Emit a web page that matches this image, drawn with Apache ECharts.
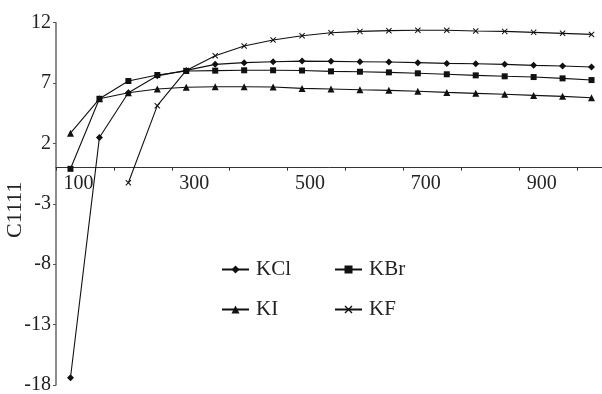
<!DOCTYPE html>
<html>
<head>
<meta charset="utf-8">
<script src="https://cdn.jsdelivr.net/npm/echarts@6/dist/echarts.min.js"></script>
<style>
html,body{margin:0;padding:0;background:#fff;}
#chart{width:602px;height:394px;}
</style>
</head>
<body>
<div id="chart"></div>
<script>
var categories = ['100','150','200','250','300','350','400','450','500','550','600','650','700','750','800','850','900','950','1000'];
var kcl = [-17.4, 2.5, 6.2, 7.6, 8.05, 8.55, 8.69, 8.77, 8.82, 8.8, 8.77, 8.74, 8.69, 8.63, 8.6, 8.55, 8.47, 8.41, 8.33];
var kbr = [-0.1, 5.7, 7.17, 7.67, 8.0, 8.03, 8.06, 8.06, 8.04, 7.97, 7.94, 7.89, 7.81, 7.73, 7.64, 7.56, 7.5, 7.39, 7.25];
var ki  = [2.85, 5.7, 6.2, 6.51, 6.65, 6.7, 6.7, 6.67, 6.56, 6.51, 6.45, 6.4, 6.32, 6.23, 6.15, 6.07, 5.98, 5.9, 5.79];
var kf  = [null, null, -1.25, 5.13, 8.05, 9.27, 10.07, 10.57, 10.92, 11.17, 11.28, 11.34, 11.37, 11.37, 11.31, 11.28, 11.2, 11.12, 11.03];
var yTicks = [-18, -13, -8, -3, 2, 7, 12];
var xLabels = ['100','300','500','700','900'];

var FONT = 'Liberation Serif';
var xShape = 'path://M0,1.2L1.2,0L5,3.8L8.8,0L10,1.2L6.2,5L10,8.8L8.8,10L5,6.2L1.2,10L0,8.8L3.8,5Z';
var GRID_TOP = 22.7, GRID_H = 362.3;
var yMin = yTicks[0], yMax = yTicks[yTicks.length - 1];
var zeroOffset = -GRID_H * (0 - yMin) / (yMax - yMin);

function mkSeries(name, data, symbol, size) {
  return {
    name: name, type: 'line', data: data, symbol: symbol, symbolSize: size,
    showAllSymbol: true, connectNulls: false,
    lineStyle: { color: '#111', width: 1.1 },
    itemStyle: { color: '#111' },
    emphasis: { disabled: true },
    animation: false
  };
}
function mkLegend(name, left, top) {
  return {
    data: [name], left: left, top: top, itemWidth: 27, itemHeight: 10,
    textStyle: { fontFamily: FONT, fontSize: 21, color: '#222', padding: [0, 0, 0, 2] },
    selectedMode: false
  };
}

var chart = echarts.init(document.getElementById('chart'), null, { renderer: 'canvas' });
chart.setOption({
  animation: false,
  backgroundColor: '#fff',
  grid: { left: 56, top: GRID_TOP, width: 550, height: GRID_H, containLabel: false, outerBoundsMode: 'none' },
  legend: [
    mkLegend('KCl', 216, 254),
    mkLegend('KBr', 329, 254),
    mkLegend('KI', 216, 294),
    mkLegend('KF', 329, 294)
  ],
  xAxis: {
    type: 'category', data: categories, boundaryGap: true, position: 'bottom',
    offset: zeroOffset,
    axisLine: { onZero: false, lineStyle: { color: '#333', width: 1 } },
    axisTick: { show: true, interval: 1, length: 3, lineStyle: { color: '#333' } },
    axisLabel: {
      interval: 3, margin: 6, fontFamily: FONT, fontSize: 20, color: '#222',
      padding: [0, 0, 0, 16],
      formatter: function (v) { return xLabels.indexOf(v) >= 0 ? v : ''; }
    },
    splitLine: { show: false }
  },
  yAxis: {
    type: 'value', min: yMin, max: yMax, interval: 5,
    name: 'C1111', nameLocation: 'middle', nameGap: 30, nameRotate: 90,
    nameMoveOverlap: false,
    nameTextStyle: { fontFamily: FONT, fontSize: 22, color: '#222', padding: [0, 12, 0, 0] },
    axisLine: { show: true, onZero: false, lineStyle: { color: '#666', width: 1.5 } },
    axisTick: { show: true, length: 3, lineStyle: { color: '#555' } },
    axisLabel: { margin: 5, fontFamily: FONT, fontSize: 20, color: '#222' },
    splitLine: { show: false }
  },
  series: [
    mkSeries('KCl', kcl, 'diamond', 7),
    mkSeries('KBr', kbr, 'rect', 6),
    mkSeries('KI', ki, 'triangle', 7),
    mkSeries('KF', kf, xShape, 6)
  ]
});
</script>
</body>
</html>
